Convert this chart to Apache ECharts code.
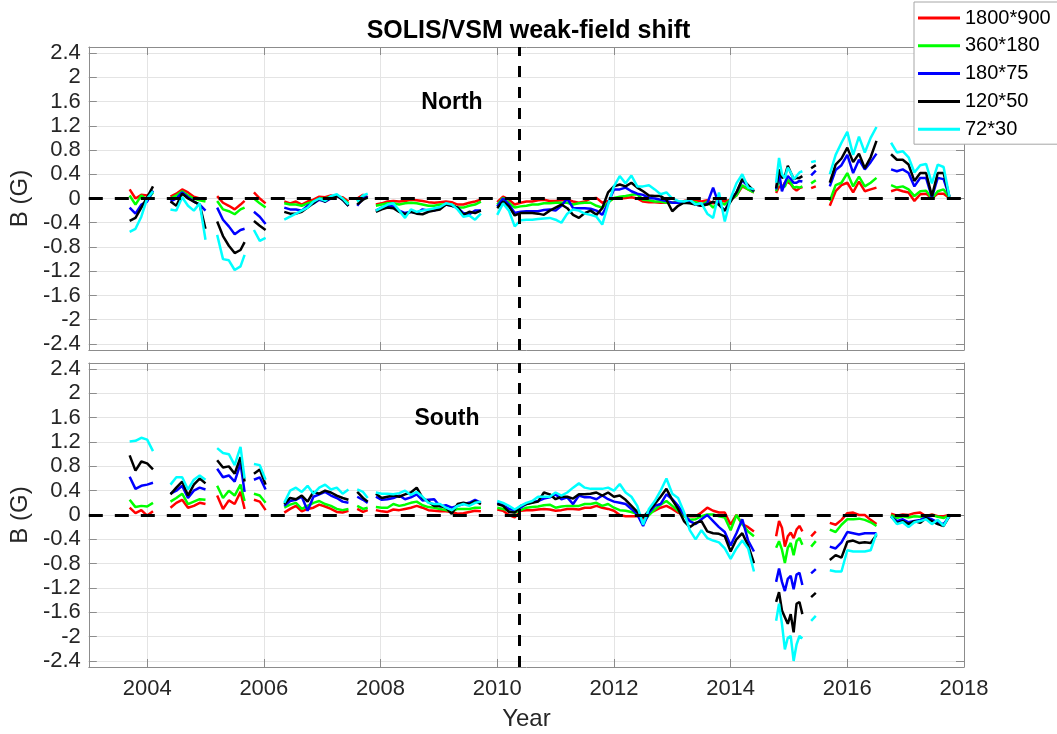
<!DOCTYPE html>
<html lang="en">
<head>
<meta charset="UTF-8" />
<title>SOLIS/VSM weak-field shift</title>
<script src="https://cdn.jsdelivr.net/npm/echarts@6/dist/echarts.min.js"></script>
<style>
  html, body { margin: 0; padding: 0; background: #fff; }
  #chart { width: 1057px; height: 734px; }
</style>
</head>
<body>
<div id="chart"></div>
<script>
// legend names, one per resolution
const names = ["1800*900", "360*180", "180*75", "120*50", "72*30"];
const colors = ["#ff0000", "#00ff00", "#0000ff", "#000000", "#00ffff"];

const xTicks = [2004, 2006, 2008, 2010, 2012, 2014, 2016, 2018];
const yTicks = [-2.4, -2, -1.6, -1.2, -0.8, -0.4, 0, 0.4, 0.8, 1.2, 1.6, 2, 2.4];
const refYear = 2010.37; // vertical dashed marker

// observation times, one array per data segment (gaps between them)
const segYears = [
  [2003.7, 2003.8, 2003.9, 2004.0, 2004.1],
  [2004.4, 2004.5, 2004.6, 2004.7, 2004.8, 2004.9, 2005.0],
  [2005.2, 2005.3, 2005.4, 2005.5, 2005.6, 2005.67],
  [2005.83, 2005.93, 2006.03],
  [2006.35, 2006.45, 2006.55, 2006.65, 2006.75, 2006.85, 2006.95, 2007.05, 2007.15, 2007.25, 2007.35, 2007.45],
  [2007.6, 2007.7, 2007.78],
  [2007.92, 2008.02, 2008.12, 2008.22, 2008.32, 2008.42, 2008.52, 2008.62, 2008.72, 2008.82, 2008.92, 2009.02, 2009.12, 2009.22, 2009.32, 2009.42, 2009.52, 2009.62, 2009.72],
  [2010.0, 2010.1, 2010.2, 2010.3, 2010.4, 2010.5, 2010.6, 2010.7, 2010.8, 2010.9,
   2011.0, 2011.1, 2011.2, 2011.3, 2011.4, 2011.5, 2011.6, 2011.7, 2011.8, 2011.9,
   2012.0, 2012.1, 2012.2, 2012.3, 2012.4, 2012.5, 2012.6, 2012.7, 2012.8, 2012.9,
   2013.0, 2013.1, 2013.2, 2013.3, 2013.4, 2013.5, 2013.6, 2013.7, 2013.8, 2013.9,
   2014.0, 2014.1, 2014.2, 2014.3, 2014.4],
  [2014.78, 2014.83, 2014.88, 2014.93, 2014.98, 2015.03, 2015.08, 2015.13, 2015.18, 2015.23],
  [2015.38, 2015.46],
  [2015.7, 2015.8, 2015.9, 2016.0, 2016.1, 2016.2, 2016.3, 2016.4, 2016.5],
  [2016.75, 2016.85, 2016.95, 2017.05, 2017.15, 2017.25, 2017.35, 2017.45, 2017.55, 2017.65, 2017.75]
];

// North hemisphere, B (G)
const northRed = [
  [0.15, 0.0, 0.06, 0.05, 0.12],
  [0.03, 0.08, 0.15, 0.1, 0.03, 0.0, -0.01],
  [0.04, -0.07, -0.12, -0.18, -0.1, -0.04],
  [0.1, 0.0, -0.08],
  [-0.05, -0.08, -0.05, -0.1, -0.05, -0.02, 0.03, 0.02, 0.05, 0.03, 0.02, -0.05],
  [0.0, 0.06, 0.02],
  [-0.1, -0.08, -0.05, -0.04, -0.05, -0.04, -0.02, -0.03, -0.04, -0.06, -0.07, -0.06, -0.05, -0.06, -0.1, -0.1, -0.07, -0.05, -0.02],
  [-0.06, 0.03, -0.02, -0.1, -0.07, -0.05, -0.05, -0.03, -0.02, -0.04,
   -0.04, -0.03, -0.02, -0.05, -0.07, -0.05, 0.0, 0.01, -0.07, -0.04,
   0.0, 0.0, 0.01, 0.02, 0.0, -0.05, -0.06, -0.06, -0.07, -0.07,
   -0.07, -0.05, -0.04, -0.02, -0.03, -0.05, -0.03, -0.08, -0.02, -0.05,
   -0.02, 0.05, 0.2, 0.15, 0.1],
  [0.09, 0.2, 0.18, 0.26, 0.27, 0.24, 0.17, 0.13, 0.17, 0.19],
  [0.17, 0.2],
  [-0.12, 0.12, 0.22, 0.26, 0.1, 0.28, 0.12, 0.15, 0.18],
  [0.12, 0.15, 0.12, 0.1, -0.04, 0.07, 0.08, 0.0, 0.08, 0.08, 0.01]
];
const northGreen = [
  [0.05, -0.1, 0.05, -0.03, 0.1],
  [0.0, 0.05, 0.12, 0.05, 0.0, -0.03, -0.05],
  [-0.04, -0.18, -0.21, -0.26, -0.18, -0.15],
  [0.0, -0.08, -0.15],
  [-0.08, -0.1, -0.1, -0.12, -0.08, -0.05, 0.0, 0.0, 0.03, 0.05, 0.0, -0.08],
  [-0.05, 0.04, 0.0],
  [-0.12, -0.1, -0.08, -0.08, -0.1, -0.08, -0.07, -0.08, -0.1, -0.12, -0.12, -0.1, -0.1, -0.1, -0.15, -0.15, -0.12, -0.1, -0.05],
  [-0.1, 0.01, -0.07, -0.15, -0.13, -0.12, -0.1, -0.1, -0.08, -0.08,
   -0.07, -0.07, -0.07, -0.1, -0.08, -0.07, -0.07, -0.12, -0.15, -0.07,
   0.01, 0.03, 0.04, 0.06, 0.07, -0.02, -0.03, -0.05, -0.05, -0.07,
   -0.07, -0.07, -0.07, -0.05, -0.06, -0.1, -0.05, -0.15, -0.05, -0.1,
   -0.02, 0.05, 0.22, 0.15, 0.1],
  [0.12, 0.32, 0.18, 0.2, 0.31, 0.26, 0.18, 0.19, 0.18, 0.2],
  [0.25, 0.3],
  [-0.04, 0.22, 0.26, 0.42, 0.2, 0.36, 0.2, 0.26, 0.34],
  [0.22, 0.18, 0.2, 0.15, 0.04, 0.12, 0.13, 0.0, 0.12, 0.15, 0.02]
];
const northBlue = [
  [-0.15, -0.25, -0.1, -0.05, 0.13],
  [-0.05, 0.0, 0.1, 0.02, -0.05, -0.1, -0.2],
  [-0.15, -0.35, -0.46, -0.59, -0.52, -0.5],
  [-0.22, -0.3, -0.42],
  [-0.15, -0.18, -0.18, -0.2, -0.12, -0.08, -0.02, -0.05, 0.0, 0.05, -0.02, -0.12],
  [-0.12, 0.0, 0.03],
  [-0.2, -0.15, -0.12, -0.13, -0.2, -0.24, -0.22, -0.24, -0.18, -0.2, -0.2, -0.15, -0.1, -0.12, -0.15, -0.24, -0.26, -0.2, -0.2],
  [-0.13, 0.0, -0.1, -0.24, -0.22, -0.21, -0.21, -0.21, -0.19, -0.18,
   -0.2, -0.12, 0.0, -0.16, -0.16, -0.16, -0.17, -0.2, -0.27, -0.08,
   0.15, 0.15, 0.18, 0.12, 0.08, 0.06, 0.01, 0.0, -0.02, -0.04,
   -0.07, -0.07, -0.06, -0.05, -0.1, -0.12, -0.08, 0.18, -0.1, -0.2,
   -0.02, 0.1, 0.3, 0.2, 0.12],
  [0.15, 0.43, 0.12, 0.26, 0.37, 0.32, 0.26, 0.26, 0.29, 0.28],
  [0.38, 0.46],
  [0.2, 0.47, 0.55, 0.72, 0.42, 0.64, 0.48, 0.6, 0.74],
  [0.48, 0.45, 0.48, 0.42, 0.2, 0.34, 0.34, 0.02, 0.34, 0.32, 0.03]
];
const northBlack = [
  [-0.37, -0.32, -0.15, 0.02, 0.2],
  [-0.05, -0.12, 0.08, 0.0, -0.05, -0.1, -0.5],
  [-0.38, -0.62, -0.78, -0.9, -0.85, -0.72],
  [-0.37, -0.45, -0.52],
  [-0.22, -0.25, -0.25, -0.22, -0.15, -0.08, 0.0, -0.05, 0.03, 0.05, -0.02, -0.12],
  [-0.1, -0.02, 0.02],
  [-0.22, -0.18, -0.15, -0.16, -0.22, -0.26, -0.22, -0.25, -0.26, -0.22, -0.2, -0.18, -0.1, -0.12, -0.15, -0.27, -0.22, -0.24, -0.2],
  [-0.16, -0.05, -0.13, -0.28, -0.24, -0.24, -0.24, -0.25, -0.27, -0.2,
   -0.15, -0.1, -0.16, -0.27, -0.32, -0.24, -0.2, -0.27, -0.16, 0.1,
   0.2, 0.23, 0.2, 0.26, 0.18, 0.12, 0.05, 0.04, 0.04, -0.02,
   -0.21, -0.12, -0.07, -0.08, -0.1, -0.12, -0.1, -0.05, -0.1, -0.2,
   -0.05, 0.1, 0.32, 0.22, 0.12],
  [0.17, 0.48, 0.34, 0.37, 0.54, 0.43, 0.32, 0.34, 0.34, 0.37],
  [0.5, 0.55],
  [0.26, 0.56, 0.66, 0.84, 0.6, 0.74, 0.5, 0.68, 0.95],
  [0.73, 0.64, 0.64, 0.56, 0.29, 0.42, 0.42, 0.04, 0.42, 0.42, 0.03]
];
const northCyan = [
  [-0.55, -0.5, -0.3, 0.0, 0.12],
  [-0.18, -0.2, 0.02, -0.12, -0.2, -0.08, -0.68],
  [-0.6, -1.0, -1.02, -1.18, -1.12, -0.93],
  [-0.52, -0.7, -0.65],
  [-0.35, -0.3, -0.25, -0.2, -0.15, -0.05, 0.0, -0.04, 0.04, 0.07, 0.0, -0.1],
  [-0.05, 0.05, 0.08],
  [-0.2, -0.15, -0.1, -0.08, -0.2, -0.32, -0.18, -0.22, -0.2, -0.18, -0.16, -0.14, -0.08, -0.1, -0.18, -0.3, -0.28, -0.35, -0.25],
  [-0.27, -0.08, -0.2, -0.46, -0.36, -0.35, -0.35, -0.34, -0.33, -0.32,
   -0.35, -0.4, -0.25, -0.18, -0.2, -0.25, -0.27, -0.3, -0.43, -0.1,
   0.2, 0.37, 0.25, 0.38, 0.2, 0.2, 0.22, 0.15, 0.07, 0.1,
   0.0, -0.04, -0.05, -0.02, -0.1, -0.08, -0.25, -0.32, 0.1, -0.38,
   0.0, 0.25, 0.4, 0.18, 0.15],
  [0.26, 0.67, 0.4, 0.34, 0.51, 0.43, 0.32, 0.37, 0.43, 0.45],
  [0.6, 0.62],
  [0.4, 0.72, 0.92, 1.1, 0.72, 1.02, 0.76, 1.0, 1.18],
  [0.92, 0.76, 0.78, 0.68, 0.43, 0.55, 0.57, 0.25, 0.56, 0.52, 0.03]
];

// South hemisphere, B (G)
const southRed = [
  [0.12, 0.03, 0.08, -0.01, 0.06],
  [0.12, 0.2, 0.25, 0.12, 0.15, 0.2, 0.18],
  [0.32, 0.1, 0.24, 0.18, 0.38, 0.1],
  [0.25, 0.22, 0.08],
  [0.04, 0.1, 0.15, 0.06, 0.1, 0.12, 0.17, 0.14, 0.1, 0.05, 0.04, 0.07],
  [0.1, 0.05, 0.08],
  [0.08, 0.06, 0.05, 0.09, 0.08, 0.1, 0.12, 0.15, 0.12, 0.08, 0.07, 0.06, 0.06, 0.05, 0.02, 0.03, 0.05, 0.07, 0.06],
  [0.09, 0.07, 0.0, -0.04, 0.07, 0.08, 0.08, 0.09, 0.1, 0.09,
   0.07, 0.08, 0.1, 0.1, 0.09, 0.12, 0.12, 0.15, 0.12, 0.1,
   0.07, 0.0, -0.02, -0.02, -0.02, -0.06, 0.04, 0.07, 0.12, 0.15,
   0.1, 0.04, 0.0, -0.02, -0.02, 0.04, 0.12, 0.07, 0.04, 0.04,
   -0.16, 0.0, -0.15, -0.2, -0.27],
  [-0.35, -0.1, -0.21, -0.52, -0.35, -0.29, -0.38, -0.24, -0.18, -0.27],
  [-0.35, -0.27],
  [-0.13, -0.16, -0.08, 0.03, 0.04, 0.0, 0.0, -0.08, -0.15],
  [0.02, -0.01, 0.01, 0.0, 0.03, 0.04, -0.02, 0.01, -0.02, -0.02, 0.0]
];
const southGreen = [
  [0.25, 0.13, 0.15, 0.14, 0.2],
  [0.22, 0.28, 0.35, 0.18, 0.22, 0.26, 0.25],
  [0.48, 0.28, 0.4, 0.32, 0.5, 0.23],
  [0.35, 0.32, 0.2],
  [0.12, 0.17, 0.2, 0.1, 0.15, 0.2, 0.23, 0.18, 0.15, 0.1, 0.08, 0.1],
  [0.15, 0.1, 0.12],
  [0.13, 0.12, 0.12, 0.18, 0.15, 0.17, 0.2, 0.22, 0.16, 0.13, 0.12, 0.1, 0.08, 0.06, 0.1, 0.1, 0.1, 0.12, 0.12],
  [0.12, 0.1, 0.07, 0.04, 0.08, 0.12, 0.13, 0.14, 0.16, 0.17,
   0.12, 0.14, 0.15, 0.15, 0.15, 0.18, 0.18, 0.2, 0.15, 0.18,
   0.12, 0.08, 0.07, 0.05, 0.02, -0.13, 0.0, 0.09, 0.17, 0.23,
   0.15, 0.07, -0.02, -0.08, -0.07, -0.02, 0.01, 0.01, -0.02, -0.04,
   -0.25, 0.0, -0.15, -0.27, -0.35],
  [-0.54, -0.43, -0.57, -0.79, -0.54, -0.46, -0.66, -0.43, -0.38, -0.49],
  [-0.52, -0.43],
  [-0.24, -0.28, -0.16, -0.07, -0.07, -0.06, -0.08, -0.12, -0.18],
  [0.0, -0.05, -0.02, -0.04, -0.02, -0.03, -0.02, 0.0, -0.03, -0.05, 0.0]
];
const southBlue = [
  [0.63, 0.43, 0.48, 0.5, 0.53],
  [0.35, 0.4, 0.48, 0.28, 0.4, 0.45, 0.42],
  [0.76, 0.62, 0.65, 0.55, 0.85, 0.38],
  [0.58, 0.62, 0.42],
  [0.15, 0.23, 0.25, 0.3, 0.07, 0.3, 0.34, 0.38, 0.32, 0.28, 0.22, 0.2],
  [0.3, 0.25, 0.2],
  [0.3, 0.25, 0.26, 0.28, 0.32, 0.26, 0.29, 0.34, 0.24, 0.25, 0.26, 0.14, 0.16, 0.12, 0.15, 0.18, 0.2, 0.25, 0.2],
  [0.2, 0.16, 0.1, 0.08, 0.12, 0.18, 0.21, 0.23, 0.27, 0.29,
   0.34, 0.26, 0.29, 0.18, 0.32, 0.29, 0.29, 0.26, 0.32, 0.26,
   0.22, 0.2, 0.18, 0.1, 0.01, -0.18, 0.04, 0.15, 0.18, 0.34,
   0.26, 0.15, 0.01, -0.1, -0.15, -0.07, 0.0, -0.1, -0.2, -0.28,
   -0.5, -0.3, -0.07, -0.42, -0.6],
  [-1.1, -0.88, -1.1, -1.25, -1.05, -1.0, -1.22, -0.98, -0.95, -1.15],
  [-0.96, -0.89],
  [-0.52, -0.55, -0.45, -0.28, -0.3, -0.32, -0.3, -0.3, -0.3],
  [-0.03, -0.1, -0.07, -0.12, -0.1, -0.08, -0.04, -0.07, -0.12, -0.15, -0.02]
];
const southBlack = [
  [0.98, 0.73, 0.88, 0.85, 0.75],
  [0.34, 0.45, 0.55, 0.32, 0.5, 0.6, 0.52],
  [0.9, 0.78, 0.8, 0.68, 0.95, 0.55],
  [0.68, 0.75, 0.5],
  [0.18, 0.28, 0.26, 0.32, 0.22, 0.38, 0.35, 0.4, 0.37, 0.32, 0.28, 0.25],
  [0.38, 0.28, 0.22],
  [0.35, 0.28, 0.3, 0.32, 0.3, 0.34, 0.37, 0.45, 0.28, 0.22, 0.15, 0.15, 0.12, 0.02, 0.18, 0.2, 0.18, 0.23, 0.18],
  [0.18, 0.15, 0.05, 0.04, 0.15, 0.18, 0.2, 0.22, 0.37, 0.34,
   0.26, 0.3, 0.3, 0.27, 0.34, 0.34, 0.35, 0.37, 0.32, 0.37,
   0.3, 0.32, 0.25, 0.15, 0.05, -0.04, 0.07, 0.18, 0.3, 0.43,
   0.25, 0.1, -0.1, -0.2, -0.13, -0.1, -0.27, -0.3, -0.31, -0.35,
   -0.6, -0.4, -0.3, -0.5, -0.79],
  [-1.43, -1.27, -1.57, -1.68, -1.79, -1.63, -1.93, -1.46, -1.43, -1.63],
  [-1.35, -1.28],
  [-0.74, -0.66, -0.7, -0.44, -0.42, -0.46, -0.45, -0.46, -0.33],
  [-0.02, -0.13, -0.1, -0.15, -0.1, -0.13, -0.05, -0.1, -0.15, -0.18, -0.02]
];
const southCyan = [
  [1.21, 1.22, 1.27, 1.24, 1.05],
  [0.5, 0.62, 0.62, 0.42, 0.58, 0.65, 0.58],
  [1.1, 1.02, 1.0, 0.82, 1.12, 0.6],
  [0.84, 0.82, 0.58],
  [0.2, 0.4, 0.45, 0.38, 0.48, 0.35, 0.45, 0.5, 0.42, 0.45, 0.35, 0.42],
  [0.42, 0.38, 0.28],
  [0.37, 0.35, 0.35, 0.34, 0.36, 0.4, 0.33, 0.38, 0.3, 0.2, 0.18, 0.18, 0.12, 0.08, 0.15, 0.18, 0.15, 0.2, 0.22],
  [0.23, 0.2, 0.15, 0.09, 0.15, 0.2, 0.23, 0.3, 0.3, 0.3,
   0.37, 0.32, 0.37, 0.45, 0.52, 0.45, 0.43, 0.43, 0.43, 0.45,
   0.4, 0.51, 0.37, 0.3, 0.15, -0.16, 0.1, 0.23, 0.4, 0.6,
   0.35, 0.28, 0.05, -0.25, -0.4, -0.25, -0.38, -0.42, -0.45, -0.55,
   -0.72, -0.55, -0.42, -0.55, -0.93],
  [-1.74, -1.46, -1.79, -2.21, -2.02, -1.99, -2.4, -2.13, -1.99, -2.03],
  [-1.74, -1.66],
  [-0.91, -0.93, -0.93, -0.58, -0.6, -0.6, -0.6, -0.58, -0.3],
  [-0.02, -0.15, -0.12, -0.2, -0.12, -0.1, -0.07, -0.15, -0.08, -0.18, -0.01]
];

const northSets = [northRed, northGreen, northBlue, northBlack, northCyan];
const southSets = [southRed, southGreen, southBlue, southBlack, southCyan];

const FONT = "'Liberation Sans', Arial, Helvetica, sans-serif";
const AXIS_GRAY = "#8c8c8c";
const TEXT_GRAY = "#262626";

// join the segments into one point list, breaking the line between them
function toPoints(segs) {
  const pts = [];
  segs.forEach((vals, i) => {
    if (i > 0) {
      const prev = segYears[i - 1];
      pts.push([(prev[prev.length - 1] + segYears[i][0]) / 2, null]);
    }
    vals.forEach((v, j) => pts.push([segYears[i][j], v]));
  });
  return pts;
}

const chart = echarts.init(document.getElementById("chart"));

const xBase = (gridIndex, position, showLabel) => ({
  type: "value",
  gridIndex: gridIndex,
  position: position,
  min: 2003,
  max: 2018,
  axisLine: { show: true, onZero: false, lineStyle: { color: AXIS_GRAY, width: 1 } },
  axisTick: { show: true, inside: true, length: 8, customValues: xTicks, lineStyle: { color: AXIS_GRAY } },
  axisLabel: {
    show: showLabel, customValues: xTicks, margin: 11,
    formatter: (v) => String(v),
    color: TEXT_GRAY, fontSize: 22, fontFamily: FONT
  },
  splitLine: { show: position === "bottom", lineStyle: { color: "#e4e4e4", width: 1 } }
});

const yBase = (gridIndex, position, showLabel) => ({
  type: "value",
  gridIndex: gridIndex,
  position: position,
  min: -2.5,
  max: 2.5,
  axisLine: { show: true, onZero: false, lineStyle: { color: AXIS_GRAY, width: 1 } },
  axisTick: { show: true, inside: true, length: 8, customValues: yTicks, lineStyle: { color: AXIS_GRAY } },
  axisLabel: {
    show: showLabel, customValues: yTicks, margin: 8,
    color: TEXT_GRAY, fontSize: 22, fontFamily: FONT
  },
  splitLine: { show: position === "left", lineStyle: { color: "#e4e4e4", width: 1 } }
});

const xAxes = [
  xBase(0, "bottom", false),
  xBase(0, "top", false),
  Object.assign(xBase(1, "bottom", true), {
    name: "Year", nameLocation: "middle", nameGap: 40,
    nameTextStyle: { fontSize: 24, color: TEXT_GRAY, fontFamily: FONT }
  }),
  xBase(1, "top", false)
];
const yName = {
  name: "B (G)", nameLocation: "middle", nameGap: 50, nameRotate: 90,
  nameTextStyle: { fontSize: 24, color: TEXT_GRAY, fontFamily: FONT }
};
const yAxes = [
  Object.assign(yBase(0, "left", true), yName),
  yBase(0, "right", false),
  Object.assign(yBase(1, "left", true), yName),
  yBase(1, "right", false)
];

const refLines = {
  silent: true,
  symbol: "none",
  label: { show: false },
  animation: false,
  data: [
    { yAxis: 0, lineStyle: { color: "#000", width: 3, type: [14, 12] } },
    { xAxis: refYear, lineStyle: { color: "#000", width: 3, type: [11, 10] } }
  ]
};

const series = [];
[northSets, southSets].forEach((sets, panel) => {
  sets.forEach((segs, k) => {
    const s = {
      name: names[k],
      type: "line",
      xAxisIndex: panel * 2,
      yAxisIndex: panel * 2,
      data: toPoints(segs),
      symbol: "none",
      showSymbol: false,
      connectNulls: false,
      color: colors[k],
      lineStyle: { color: colors[k], width: 2.5 },
      emphasis: { disabled: true },
      animation: false
    };
    if (k === sets.length - 1) s.markLine = refLines;
    series.push(s);
  });
});

const option = {
  backgroundColor: "#fff",
  animation: false,
  title: {
    text: "SOLIS/VSM weak-field shift",
    left: "center",
    top: 14,
    textStyle: { fontSize: 25, fontWeight: "bold", color: "#000", fontFamily: FONT }
  },
  legend: {
    orient: "vertical",
    left: 914,
    top: 2,
    icon: "rect",
    itemWidth: 42,
    itemHeight: 3,
    itemGap: 7.8,
    padding: [6, 14, 5, 4],
    backgroundColor: "#fff",
    borderColor: "#a6a6a6",
    borderWidth: 1,
    data: names,
    textStyle: { fontSize: 20, lineHeight: 20, color: "#000", fontFamily: FONT }
  },
  grid: [
    { left: 87, top: 47, width: 877, height: 303 },
    { left: 87, top: 363, width: 877, height: 304 }
  ],
  xAxis: xAxes,
  yAxis: yAxes,
  graphic: [
    {
      type: "text", x: 452, y: 103, z: 100,
      style: { text: "North", fontSize: 23, fontWeight: "bold", fontFamily: FONT, fill: "#000", align: "center", verticalAlign: "middle" }
    },
    {
      type: "text", x: 447, y: 419, z: 100,
      style: { text: "South", fontSize: 23, fontWeight: "bold", fontFamily: FONT, fill: "#000", align: "center", verticalAlign: "middle" }
    }
  ],
  series: series
};

chart.setOption(option);
</script>
</body>
</html>
